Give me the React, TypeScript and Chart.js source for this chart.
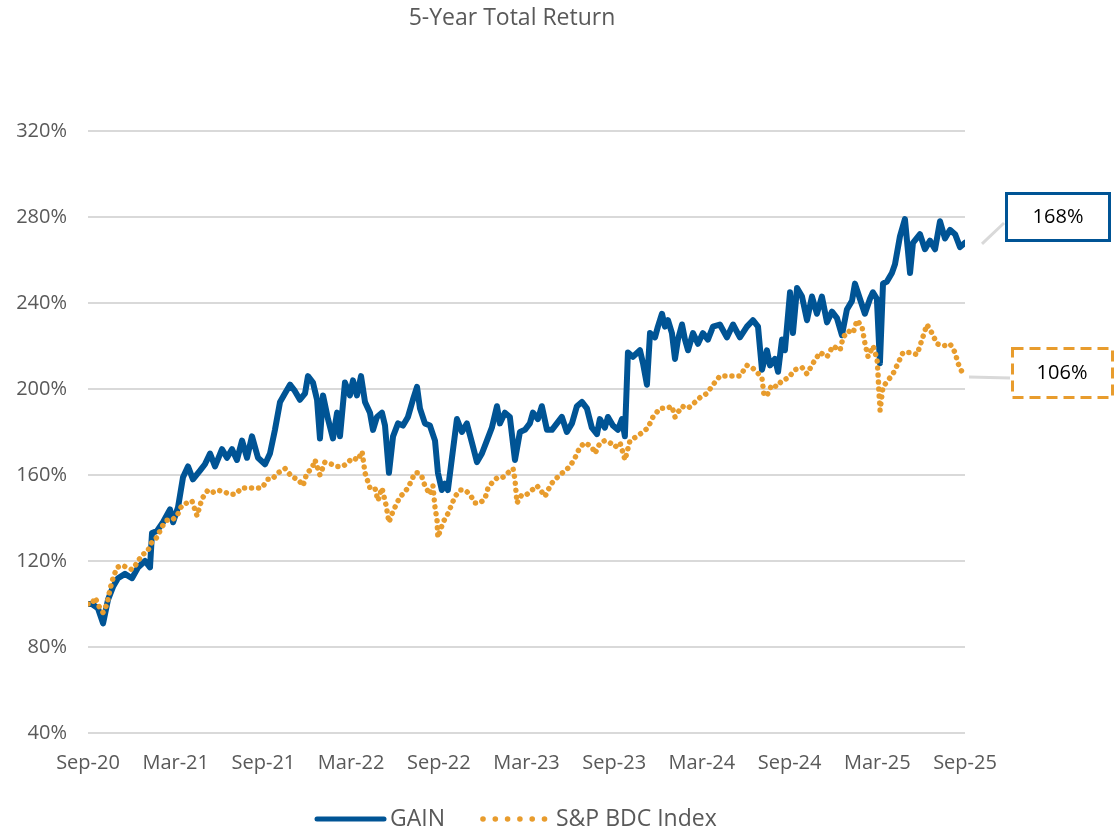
import React, { useEffect, useRef } from "react";
import { Chart, registerables } from "chart.js";

Chart.register(...registerables);

const chartTitle = "5-Year Total Return";
const seriesNames = ["GAIN", "S&P BDC Index"];
const xTickLabels = ["Sep-20", "Mar-21", "Sep-21", "Mar-22", "Sep-22", "Mar-23", "Sep-23", "Mar-24", "Sep-24", "Mar-25", "Sep-25"];
const yMin = 40;
const yMax = 320;
const yStep = 40;
const calloutLabels = ["168%", "106%"];

// months since Sep-2020
const gainMonths = [
  0, 0.27, 0.68, 1.03, 1.37, 1.71, 2.05, 2.53, 3.01, 3.42,
  3.9, 4.24, 4.38, 4.72, 5.13, 5.61, 5.82, 6.16, 6.5, 6.84,
  7.18, 7.66, 8.0, 8.35, 8.69, 9.17, 9.51, 9.85, 10.19, 10.54,
  10.88, 11.22, 11.63, 12.11, 12.45, 12.79, 13.14, 13.48, 13.82, 14.16,
  14.5, 14.85, 15.05, 15.39, 15.67, 15.87, 16.08, 16.42, 16.76, 17.04,
  17.24, 17.58, 17.92, 18.13, 18.4, 18.68, 18.95, 19.29, 19.5, 19.77,
  20.11, 20.32, 20.59, 20.87, 21.21, 21.55, 21.89, 22.23, 22.51, 22.71,
  23.05, 23.39, 23.74, 23.94, 24.21, 24.42, 24.62, 24.9, 25.24, 25.58,
  25.92, 26.27, 26.61, 26.95, 27.29, 27.63, 27.98, 28.18, 28.52, 28.86,
  29.21, 29.55, 29.89, 30.23, 30.44, 30.78, 31.05, 31.4, 31.74, 32.08,
  32.42, 32.76, 33.11, 33.45, 33.79, 34.13, 34.47, 34.82, 35.02, 35.36,
  35.57, 35.91, 36.25, 36.53, 36.73, 36.94, 37.28, 37.76, 37.97, 38.24,
  38.45, 38.79, 38.99, 39.27, 39.47, 39.68, 39.95, 40.16, 40.36, 40.64,
  40.84, 41.05, 41.39, 41.73, 42.07, 42.41, 42.76, 43.23, 43.71, 44.13,
  44.6, 45.08, 45.49, 45.84, 46.11, 46.45, 46.66, 47.0, 47.21, 47.48,
  47.68, 48.03, 48.23, 48.51, 48.85, 49.19, 49.53, 49.87, 50.21, 50.56,
  50.9, 51.24, 51.58, 51.92, 52.27, 52.47, 52.81, 53.15, 53.5, 53.7,
  53.97, 54.18, 54.39, 54.66, 55.0, 55.21, 55.55, 55.89, 56.24, 56.44,
  56.92, 57.26, 57.6, 57.95, 58.29, 58.63, 58.97, 59.32, 59.66, 60,
];
const gainValues = [
  100, 100, 98, 91, 102, 108, 112, 114, 112, 117,
  120, 117, 133, 134, 138, 144, 138, 145, 159, 164,
  158, 162, 165, 170, 164, 172, 168, 172, 167, 176,
  168, 178, 168, 165, 170, 181, 194, 198, 202, 199,
  195, 198, 206, 203, 195, 177, 197, 186, 177, 189,
  178, 203, 197, 204, 197, 206, 194, 189, 181, 187,
  189, 183, 161, 178, 184, 183, 187, 195, 201, 191,
  184, 183, 176, 161, 153, 156, 153, 168, 186, 180,
  184, 175, 166, 170, 176, 182, 192, 184, 189, 187,
  167, 180, 181, 184, 189, 186, 192, 181, 181, 184,
  187, 180, 184, 192, 194, 191, 182, 179, 186, 182,
  187, 183, 181, 186, 178, 217, 215, 218, 212, 202,
  226, 224, 229, 235, 229, 232, 226, 214, 223, 230,
  223, 218, 226, 221, 226, 223, 229, 230, 224, 230,
  224, 229, 232, 229, 209, 218, 211, 214, 208, 223,
  218, 245, 226, 247, 243, 232, 243, 235, 243, 231,
  236, 233, 225, 237, 241, 249, 242, 235, 242, 245,
  242, 212, 249, 250, 254, 258, 271, 279, 254, 268,
  272, 265, 269, 265, 278, 270, 274, 272, 266, 268,
];

const bdcMonths = [
  0, 0.27, 0.48, 0.82, 1.03, 1.3, 1.51, 1.71, 1.98, 2.33,
  2.67, 3.01, 3.35, 3.69, 4.04, 4.38, 4.72, 5.06, 5.4, 5.75,
  6.09, 6.43, 6.77, 7.11, 7.46, 7.8, 8.21, 8.55, 8.89, 9.37,
  9.71, 10.06, 10.54, 10.95, 11.43, 11.9, 12.31, 12.59, 13.0, 13.48,
  13.96, 14.37, 14.71, 14.98, 15.32, 15.53, 15.87, 16.21, 16.69, 17.04,
  17.45, 17.79, 18.13, 18.47, 18.75, 18.95, 19.29, 19.63, 19.84, 20.11,
  20.39, 20.59, 20.8, 21.0, 21.35, 21.69, 22.03, 22.37, 22.58, 22.85,
  23.05, 23.39, 23.6, 23.74, 23.88, 23.94, 24.29, 24.62, 25.11, 25.45,
  25.79, 26.13, 26.48, 26.82, 27.16, 27.37, 27.71, 28.05, 28.39, 28.73,
  29.08, 29.21, 29.35, 29.69, 30.03, 30.38, 30.72, 31.06, 31.27, 31.47,
  31.81, 32.29, 32.63, 32.98, 33.32, 33.66, 34.0, 34.48, 34.69, 35.03,
  35.37, 35.71, 36.05, 36.4, 36.74, 37.08, 37.56, 37.97, 38.31, 38.65,
  39.13, 39.61, 39.95, 40.16, 40.64, 41.05, 41.39, 41.87, 42.35, 42.76,
  43.23, 43.71, 44.13, 44.6, 45.08, 45.42, 45.76, 46.11, 46.25, 46.45,
  46.79, 47.14, 47.48, 47.89, 48.37, 48.85, 49.19, 49.6, 50.08, 50.56,
  50.97, 51.45, 51.66, 52.0, 52.34, 52.61, 52.95, 53.16, 53.37, 53.71,
  53.98, 54.05, 54.12, 54.19, 54.39, 54.73, 55.07, 55.42, 55.76, 56.24,
  56.72, 57.06, 57.4, 57.74, 58.09, 58.5, 58.98, 59.32, 59.52, 59.79, 60,
];
const bdcValues = [
  100, 100, 103, 98, 96, 100, 107, 112, 117, 118,
  117, 116, 119, 123, 124, 129, 131, 136, 139, 139,
  141, 146, 147, 148, 141, 149, 153, 152, 153, 152,
  151, 151, 154, 154, 154, 154, 158, 158, 161, 163,
  159, 158, 155, 161, 163, 167, 160, 166, 165, 164,
  164, 166, 168, 167, 171, 161, 154, 154, 148, 154,
  146, 138, 142, 145, 150, 152, 156, 161, 161, 159,
  155, 151, 155, 145, 139, 131, 138, 142, 150, 153,
  153, 151, 147, 147, 149, 154, 157, 159, 159, 161,
  163, 158, 147, 151, 151, 153, 155, 152, 150, 153,
  157, 160, 162, 164, 168, 173, 175, 173, 170, 175,
  176, 175, 173, 175, 167, 176, 178, 180, 182, 187,
  191, 191, 192, 187, 192, 191, 193, 196, 198, 202,
  206, 206, 206, 206, 211, 210, 208, 205, 197, 197,
  202, 201, 204, 205, 209, 210, 207, 212, 217, 215,
  220, 218, 224, 227, 226, 232, 229, 221, 215, 220,
  214, 207, 198, 190, 201, 204, 207, 212, 217, 217,
  216, 223, 230, 226, 221, 220, 221, 217, 212, 208, 206,
];

const BLUE = "#005495";
const ORANGE = "#E89C2D";
const GRID = "#D9D9D9";
const TEXT = "#595959";
const FONT = "'Open Sans', 'DejaVu Sans', sans-serif";

const overlayPlugin = {
  id: "overlay",
  afterDraw(chart: any) {
    const ctx = chart.ctx;
    const xs = chart.scales.x;
    const ys = chart.scales.y;
    ctx.save();
    // title
    ctx.fillStyle = TEXT;
    ctx.font = `23px ${FONT}`;
    ctx.textAlign = "center";
    ctx.textBaseline = "middle";
    ctx.fillText(chartTitle, 512, 18);

    // callout GAIN
    const gx = xs.getPixelForValue(gainMonths[gainMonths.length - 1]);
    const gy = ys.getPixelForValue(gainValues[gainValues.length - 1]);
    ctx.strokeStyle = GRID;
    ctx.lineWidth = 3;
    ctx.setLineDash([]);
    ctx.beginPath();
    ctx.moveTo(gx + 17, gy + 1);
    ctx.lineTo(1004, 223);
    ctx.stroke();
    ctx.strokeStyle = BLUE;
    ctx.lineWidth = 3;
    ctx.strokeRect(1006.5, 193.5, 103, 47);
    ctx.fillStyle = "#000000";
    ctx.font = `20px ${FONT}`;
    ctx.fillText(calloutLabels[0], 1058, 217);

    // callout BDC
    const bx = xs.getPixelForValue(bdcMonths[bdcMonths.length - 1]);
    const by = ys.getPixelForValue(bdcValues[bdcValues.length - 1]);
    ctx.strokeStyle = GRID;
    ctx.lineWidth = 3;
    ctx.beginPath();
    ctx.moveTo(bx + 4, by + 1);
    ctx.lineTo(1010, by + 2);
    ctx.stroke();
    ctx.strokeStyle = ORANGE;
    ctx.setLineDash([11, 6]);
    ctx.strokeRect(1012.5, 348.5, 100, 49);
    ctx.setLineDash([]);
    ctx.fillStyle = "#000000";
    ctx.fillText(calloutLabels[1], 1062, 373);

    // legend
    const ly = 819;
    ctx.strokeStyle = BLUE;
    ctx.lineWidth = 5;
    ctx.lineCap = "round";
    ctx.beginPath();
    ctx.moveTo(317, ly);
    ctx.lineTo(384, ly);
    ctx.stroke();
    ctx.fillStyle = TEXT;
    ctx.font = `23px ${FONT}`;
    ctx.textAlign = "left";
    ctx.fillText(seriesNames[0], 390, ly);
    ctx.fillStyle = ORANGE;
    for (let i = 0; i < 6; i++) {
      ctx.beginPath();
      ctx.arc(483 + i * 12.3, ly, 2.8, 0, Math.PI * 2);
      ctx.fill();
    }
    ctx.fillStyle = TEXT;
    ctx.fillText(seriesNames[1], 556, ly);
    ctx.restore();
  },
};

export default function App() {
  const ref = useRef<HTMLCanvasElement | null>(null);
  useEffect(() => {
    document.body.style.margin = "0";
    const canvas = ref.current;
    if (!canvas) return;
    const chart = new Chart(canvas, {
      type: "line",
      data: {
        datasets: [
          {
            label: seriesNames[0],
            data: gainMonths.map((m, i) => ({ x: m, y: gainValues[i] })),
            borderColor: BLUE,
            backgroundColor: BLUE,
            borderWidth: 6,
            pointRadius: 0,
            tension: 0,
            borderJoinStyle: "round",
            borderCapStyle: "round",
            order: 2,
          },
          {
            label: seriesNames[1],
            data: bdcMonths.map((m, i) => ({ x: m, y: bdcValues[i] })),
            borderColor: ORANGE,
            backgroundColor: ORANGE,
            borderWidth: 5.5,
            borderDash: [0.01, 7],
            borderCapStyle: "round",
            borderJoinStyle: "round",
            pointRadius: 0,
            tension: 0,
            order: 1,
          },
        ],
      } as any,
      options: {
        responsive: false,
        animation: false,
        devicePixelRatio: 1,
        layout: { padding: { left: 0, right: 150, top: 131, bottom: 0 } },
        plugins: {
          legend: { display: false },
          title: { display: false },
          tooltip: { enabled: false },
        },
        scales: {
          x: {
            type: "linear",
            min: 0,
            max: 60,
            grid: { display: false, drawTicks: false },
            border: { display: false },
            ticks: {
              stepSize: 6,
              autoSkip: false,
              maxRotation: 0,
              padding: 18,
              color: TEXT,
              font: { family: FONT, size: 20 },
              callback: (v: any) => xTickLabels[Math.round(Number(v) / 6)] ?? "",
            },
            afterFit: (s: any) => {
              s.height = 99;
            },
          },
          y: {
            min: yMin,
            max: yMax,
            grid: { color: GRID, lineWidth: 2, drawTicks: false },
            border: { display: false },
            ticks: {
              stepSize: yStep,
              padding: 21,
              color: TEXT,
              font: { family: FONT, size: 20 },
              callback: (v: any) => `${v}%`,
            },
            afterFit: (s: any) => {
              s.width = 88;
            },
          },
        },
      } as any,
      plugins: [overlayPlugin],
    });
    return () => chart.destroy();
  }, []);
  return <canvas ref={ref} width={1115} height={832} style={{ display: "block" }} />;
}
